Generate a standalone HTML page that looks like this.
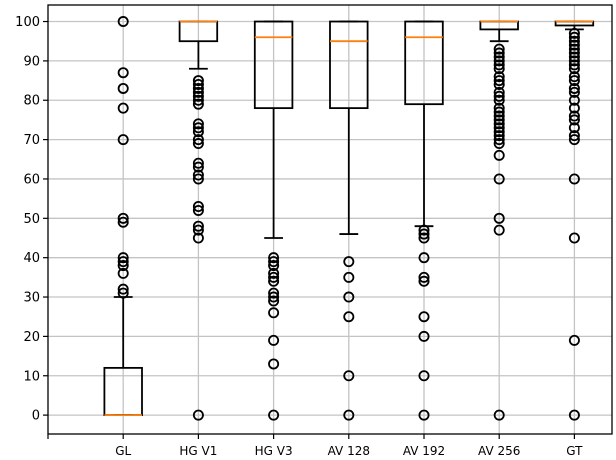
<!DOCTYPE html>
<html><head><meta charset="utf-8"><style>
body{margin:0;background:#fff}
svg{display:block;font-family:"DejaVu Sans","Liberation Sans",sans-serif}
</style></head><body>
<svg id="chart" width="616" height="460"></svg>
<script>
const categories=["GL","HG V1","HG V3","AV 128","AV 192","AV 256","GT"];
const q1=[0,95,78,78,79,98,99];
const medians=[0,100,96,95,96,100,100];
const q3=[12,100,100,100,100,100,100];
const whiskLow=[0,88,45,46,48,95,98];
const whiskHigh=[30,100,100,100,100,100,100];
const outliers=[
[100,87,83,78,70,50,49,40,39,38,36,32,31],
[85,84,83,82,81,80,79,74,73,72,70,69,64,63,61,60,53,52,48,47,45,0],
[40,39,38,36,35,34,31,30,29,26,19,13,0],
[39,35,30,25,10,0],
[47,46,45,40,35,34,25,20,10,0],
[93,92,91,90,89,88,86,85,84,82,81,80,78,77,76,75,74,73,72,71,70,69,66,60,50,47,0],
[97,96,95,94,93,92,91,90,89,88,86,85,83,82,80,78,76,75,73,71,70,60,45,19,0]
];
const yTicks=[0,10,20,30,40,50,60,70,80,90,100];
const L=48,R=612,T=5,B=434;
const xMin=0,xMax=7.5,yMin=-4.8,yMax=104.2;
const X=v=>L+(v-xMin)/(xMax-xMin)*(R-L);
const Y=v=>B-(v-yMin)/(yMax-yMin)*(B-T);
const svg=document.getElementById('chart');
const NS='http://www.w3.org/2000/svg';
function mk(tag,attrs,name){const e=document.createElementNS(NS,tag);for(const k in attrs)e.setAttribute(k,attrs[k]);


svg.appendChild(e);return e;}
yTicks.forEach(t=>{mk('line',{x1:L,x2:R,y1:Y(t),y2:Y(t),stroke:'#c4c4c4','stroke-width':1.3},'y-gridline');});
categories.forEach((c,i)=>{mk('line',{x1:X(i+1),x2:X(i+1),y1:T,y2:B,stroke:'#c4c4c4','stroke-width':1.3},'x-gridline');});
const hw=(X(1)-X(0))*0.25, cw=(X(1)-X(0))*0.125;
categories.forEach((c,i)=>{
 const x=X(i+1);
 mk('line',{x1:x,x2:x,y1:Y(q1[i]),y2:Y(whiskLow[i]),stroke:'#000','stroke-width':1.8},'lower-whisker');
 mk('line',{x1:x,x2:x,y1:Y(q3[i]),y2:Y(whiskHigh[i]),stroke:'#000','stroke-width':1.8},'upper-whisker');
 mk('line',{x1:x-cw,x2:x+cw,y1:Y(whiskLow[i]),y2:Y(whiskLow[i]),stroke:'#000','stroke-width':1.8},'lower-cap');
 mk('line',{x1:x-cw,x2:x+cw,y1:Y(whiskHigh[i]),y2:Y(whiskHigh[i]),stroke:'#000','stroke-width':1.8},'upper-cap');
 mk('rect',{x:x-hw,y:Y(q3[i]),width:2*hw,height:Y(q1[i])-Y(q3[i]),fill:'none',stroke:'#000','stroke-width':1.8},'box-'+c.toLowerCase().replace(' ','-'));
 mk('line',{x1:x-hw,x2:x+hw,y1:Y(medians[i]),y2:Y(medians[i]),stroke:'#ff7f0e','stroke-width':1.8},'median-line');
 outliers[i].forEach(v=>{mk('circle',{cx:x,cy:Y(v),r:4.6,fill:'none',stroke:'#000','stroke-width':1.8},'outlier-point');});
});
mk('rect',{x:L,y:T,width:R-L,height:B-T,fill:'none',stroke:'#000','stroke-width':1.3},'plot-frame');
yTicks.forEach(t=>{
 mk('line',{x1:L-5,x2:L,y1:Y(t),y2:Y(t),stroke:'#000','stroke-width':1.2},'y-tick');
 const e=mk('text',{x:L-8,y:Y(t)+4.5,'text-anchor':'end','font-size':13,fill:'#000'},'y-tick-label');e.textContent=t;
});
mk('line',{x1:X(0),x2:X(0),y1:B,y2:B+5,stroke:'#000','stroke-width':1.2},'x-tick');
categories.forEach((c,i)=>{
 mk('line',{x1:X(i+1),x2:X(i+1),y1:B,y2:B+5,stroke:'#000','stroke-width':1.2},'x-tick');
 const e=mk('text',{x:X(i+1),y:B+21,'text-anchor':'middle','font-size':12,fill:'#000'},'x-tick-label');e.textContent=c;
});
</script>
</body></html>
